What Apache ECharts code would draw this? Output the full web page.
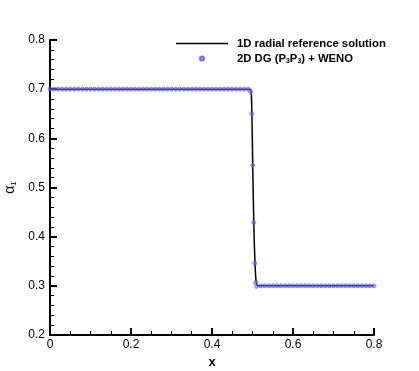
<!DOCTYPE html>
<html>
<head>
<meta charset="utf-8">
<script src="https://cdn.jsdelivr.net/npm/echarts@6/dist/echarts.min.js"></script>
<style>
  html, body { margin: 0; padding: 0; background: #ffffff; }
  #chart { width: 419px; height: 371px; }
</style>
</head>
<body>
<div id="chart"></div>
<script>
// 1D radial reference solution
var refX = [0, 0.494, 0.4965, 0.498, 0.4995, 0.5015, 0.504, 0.5065, 0.5085, 0.5105, 0.5125, 0.8]
var refY = [0.7, 0.7, 0.695, 0.67, 0.6, 0.5, 0.4, 0.34, 0.312, 0.302, 0.3, 0.3]

// 2D DG (P3P3) + WENO samples
var dgX = [
  0, 0.01, 0.02, 0.03, 0.04, 0.05, 0.06, 0.07, 0.08, 0.09,
  0.10, 0.11, 0.12, 0.13, 0.14, 0.15, 0.16, 0.17, 0.18, 0.19,
  0.20, 0.21, 0.22, 0.23, 0.24, 0.25, 0.26, 0.27, 0.28, 0.29,
  0.30, 0.31, 0.32, 0.33, 0.34, 0.35, 0.36, 0.37, 0.38, 0.39,
  0.40, 0.41, 0.42, 0.43, 0.44, 0.45, 0.46, 0.47, 0.48, 0.49,
  0.4955, 0.498, 0.5005, 0.503, 0.5055, 0.508, 0.510,
  0.52, 0.53, 0.54, 0.55, 0.56, 0.57, 0.58, 0.59,
  0.60, 0.61, 0.62, 0.63, 0.64, 0.65, 0.66, 0.67, 0.68, 0.69,
  0.70, 0.71, 0.72, 0.73, 0.74, 0.75, 0.76, 0.77, 0.78, 0.79, 0.80
]
var dgY = [
  0.7, 0.7, 0.7, 0.7, 0.7, 0.7, 0.7, 0.7, 0.7, 0.7,
  0.7, 0.7, 0.7, 0.7, 0.7, 0.7, 0.7, 0.7, 0.7, 0.7,
  0.7, 0.7, 0.7, 0.7, 0.7, 0.7, 0.7, 0.7, 0.7, 0.7,
  0.7, 0.7, 0.7, 0.7, 0.7, 0.7, 0.7, 0.7, 0.7, 0.7,
  0.7, 0.7, 0.7, 0.7, 0.7, 0.7, 0.7, 0.7, 0.7, 0.7,
  0.695, 0.650, 0.545, 0.429, 0.346, 0.307, 0.299,
  0.3, 0.3, 0.3, 0.3, 0.3, 0.3, 0.3, 0.3,
  0.3, 0.3, 0.3, 0.3, 0.3, 0.3, 0.3, 0.3, 0.3, 0.3,
  0.3, 0.3, 0.3, 0.3, 0.3, 0.3, 0.3, 0.3, 0.3, 0.3, 0.3
]

var xTicks = { min: 0, max: 0.8, interval: 0.2 }
var yTicks = { min: 0.2, max: 0.8, interval: 0.1 }

var refName = '1D radial reference solution'
var dgName = '2D DG (P3P3) + WENO'

function zip(xs, ys) {
  return xs.map(function (x, i) { return [x, ys[i]] })
}

var font = 'Liberation Sans, Arial, sans-serif'

var chart = echarts.init(document.getElementById('chart'))
chart.setOption({
  animation: false,
  backgroundColor: '#ffffff',
  textStyle: { fontFamily: font },
  grid: { left: 50, right: 45, top: 40, bottom: 36, outerBoundsMode: 'none', containLabel: false },
  legend: {
    orient: 'vertical',
    left: 176,
    top: 38,
    padding: 0,
    itemWidth: 52,
    itemHeight: 4,
    itemGap: 4,
    data: [
      { name: refName, icon: 'path://M0,0H52V1.5H0Z' },
      { name: dgName, icon: 'circle' }
    ],
    textStyle: {
      fontFamily: font,
      fontSize: 11.3,
      fontWeight: 'bold',
      color: '#000',
      padding: [0, 0, 0, 4],
      rich: {
        s: { fontSize: 7, fontWeight: 'bold', padding: [6, 0, 0, 0] }
      }
    },
    formatter: function (name) {
      if (name === dgName) return '2D DG (P{s|3}P{s|3}) + WENO'
      return name
    }
  },
  xAxis: {
    type: 'value',
    min: xTicks.min,
    max: xTicks.max,
    interval: xTicks.interval,
    name: 'x',
    nameLocation: 'middle',
    nameGap: 15,
    nameTextStyle: { fontFamily: font, fontSize: 13, fontWeight: 'bold', color: '#000' },
    axisLine: { onZero: false, lineStyle: { color: '#000', width: 2 } },
    axisTick: { inside: true, length: 7, lineStyle: { color: '#000', width: 2 } },
    minorTick: { show: true, splitNumber: 4, length: 4, lineStyle: { color: '#000', width: 1 } },
    axisLabel: {
      margin: 4, fontSize: 12, color: '#000',
      formatter: function (v) { return v === 0 ? '0' : v.toFixed(1) }
    },
    splitLine: { show: false }
  },
  yAxis: {
    type: 'value',
    min: yTicks.min,
    max: yTicks.max,
    interval: yTicks.interval,
    name: '{a|α}{s|1}',
    nameLocation: 'middle',
    nameRotate: 90,
    nameGap: 29,
    nameTextStyle: {
      color: '#000',
      rich: {
        a: { fontFamily: font, fontSize: 14, color: '#000' },
        s: { fontFamily: font, fontSize: 8, color: '#000', padding: [7, 0, 0, 0] }
      }
    },
    axisLine: { onZero: false, lineStyle: { color: '#000', width: 2 } },
    axisTick: { inside: true, length: 7, lineStyle: { color: '#000', width: 2 } },
    minorTick: { show: true, splitNumber: 5, length: 4, lineStyle: { color: '#000', width: 1 } },
    axisLabel: {
      margin: 5, fontSize: 12, color: '#000',
      formatter: function (v) { return v.toFixed(1) }
    },
    splitLine: { show: false }
  },
  series: [
    {
      name: refName,
      type: 'line',
      data: zip(refX, refY),
      symbol: 'none',
      smooth: 0.3,
      lineStyle: { color: '#000', width: 1.5 },
      itemStyle: { color: '#000' },
      z: 2
    },
    {
      name: dgName,
      type: 'scatter',
      data: zip(dgX, dgY),
      symbol: 'circle',
      symbolSize: 4,
      itemStyle: { color: 'rgba(130,130,255,0.6)', borderColor: '#4d4dff', borderWidth: 0.8 },
      z: 3
    }
  ]
})
</script>
</body>
</html>
